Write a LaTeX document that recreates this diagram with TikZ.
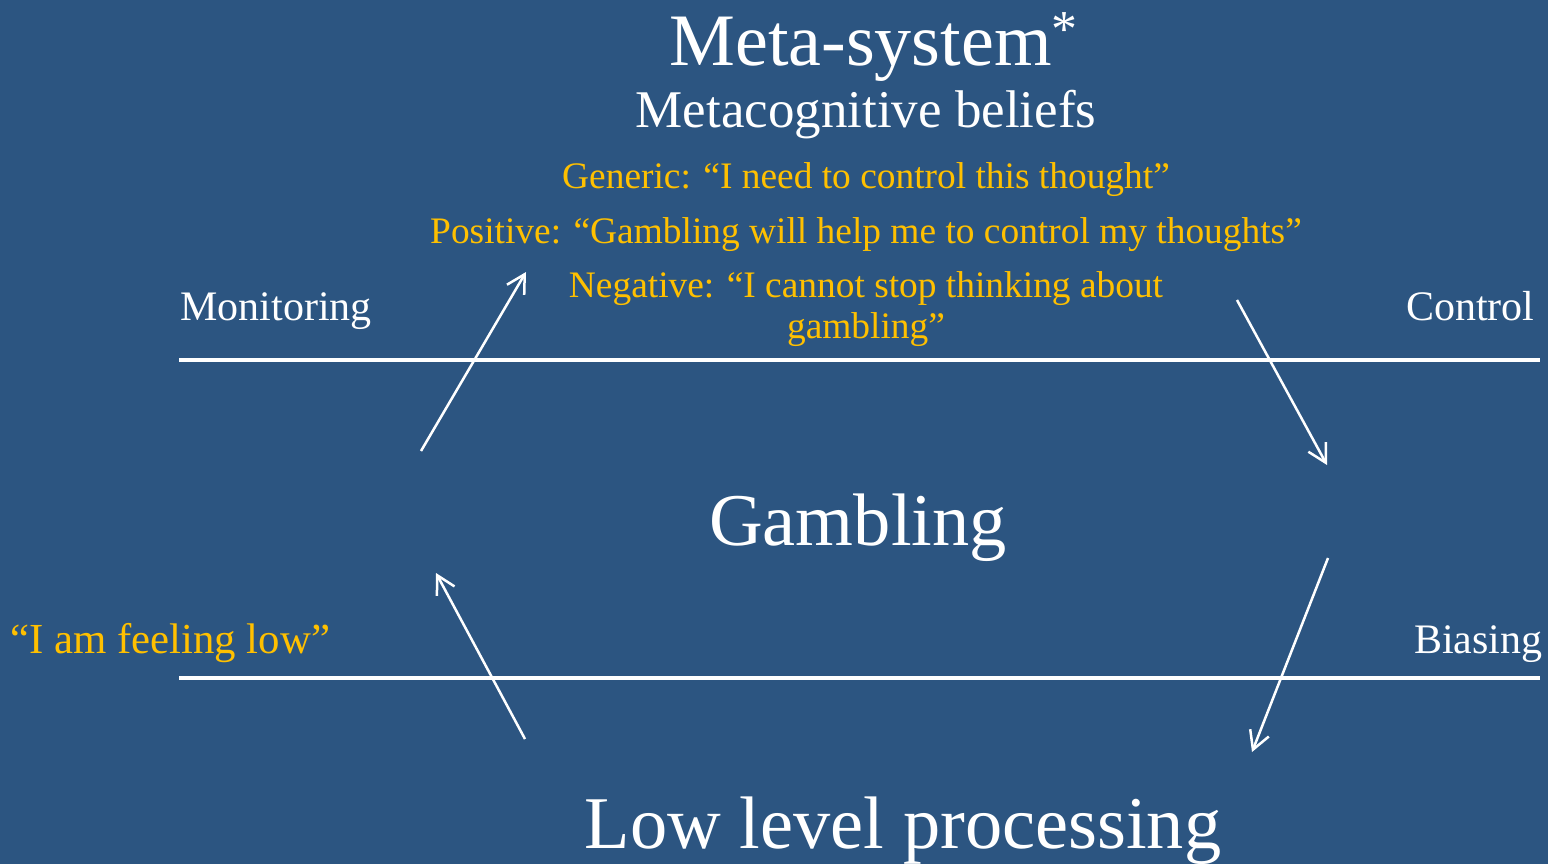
\documentclass[tikz,border=0pt]{standalone}
\usepackage{fontspec}
\setmainfont{Liberation Serif}
\usetikzlibrary{arrows.meta}
\definecolor{bg}{HTML}{2C5581}
\definecolor{gold}{HTML}{FFC000}
\begin{document}
\begin{tikzpicture}[x=0.5pt,y=-0.5pt,
  txt/.style={text=white, inner sep=0pt, anchor=base},
  ytxt/.style={text=gold, inner sep=0pt, anchor=base},
  rule/.style={draw=white, line width=2.4pt},
  flow/.style={draw=white, line width=1.25pt, -{Straight Barb[length=9pt,width=10pt,line width=1.25pt]}}]
\fill[bg] (0,0) rectangle (1548,864);
\useasboundingbox (0,0) rectangle (1548,864);
% titles
\node[txt, anchor=base west, font=\fontsize{37}{44}\selectfont] (meta) at (669,65) {Meta-system\textsuperscript{*}};
\node[txt, font=\fontsize{26.5}{32}\selectfont] (beliefs) at (866,127) {Metacognitive beliefs};
\node[ytxt, font=\fontsize{18.7}{22}\selectfont] (generic) at (866,188) {Generic: “I need to control this thought”};
\node[ytxt, font=\fontsize{18.7}{22}\selectfont] (positive) at (866,243) {Positive: “Gambling will help me to control my thoughts”};
\node[ytxt, font=\fontsize{18.7}{22}\selectfont] (negative) at (866,297) {Negative: “I cannot stop thinking about};
\node[ytxt, font=\fontsize{18.7}{22}\selectfont] (negative2) at (866,338) {gambling”};
\node[txt, anchor=base west, font=\fontsize{21}{25}\selectfont] (monitoring) at (180,320) {Monitoring};
\node[txt, anchor=base east, font=\fontsize{21}{25}\selectfont] (control) at (1535,320) {Control};
\node[txt, font=\fontsize{37.2}{44}\selectfont] (gambling) at (858,545) {Gambling};
\node[ytxt, anchor=base west, font=\fontsize{21.4}{25}\selectfont] (low) at (10,653) {“I am feeling low”};
\node[txt, anchor=base east, font=\fontsize{21}{25}\selectfont] (biasing) at (1543,653) {Biasing};
\node[txt, font=\fontsize{37.2}{44}\selectfont] (lowlevel) at (903,848) {Low level processing};
% rules
\coordinate (r1a) at (179,360); \coordinate (r1b) at (1540,360);
\coordinate (r2a) at (179,678); \coordinate (r2b) at (1540,678);
\draw[rule] (r1a) -- (r1b);
\draw[rule] (r2a) -- (r2b);
% arrows
\coordinate (a1s) at (421,451); \coordinate (a1e) at (526,272);
\coordinate (a2s) at (1237,300); \coordinate (a2e) at (1327,465);
\coordinate (a3s) at (1328,558); \coordinate (a3e) at (1252,752);
\coordinate (a4s) at (525,739); \coordinate (a4e) at (436,573);
\draw[flow] (a1s) -- (a1e);
\draw[flow] (a2s) -- (a2e);
\draw[flow] (a3s) -- (a3e);
\draw[flow] (a4s) -- (a4e);
\end{tikzpicture}
\end{document}
